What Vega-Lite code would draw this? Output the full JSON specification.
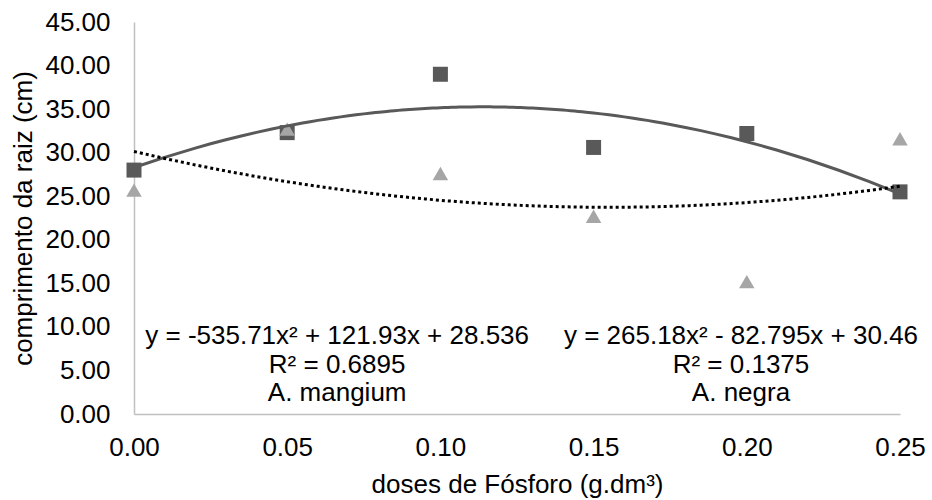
{
  "$schema": "https://vega.github.io/schema/vega-lite/v6.json",
  "width": 766,
  "height": 392,
  "autosize": "none",
  "padding": {"left": 134, "top": 22, "right": 32, "bottom": 86},
  "background": "white",
  "config": {
    "view": {"stroke": null},
    "font": "Liberation Sans",
    "axis": {
      "grid": false,
      "ticks": false,
      "tickSize": 0,
      "domainColor": "#c0c0c0",
      "domainWidth": 1.5,
      "labelFontSize": 26,
      "labelColor": "#000000",
      "labelFont": "Liberation Sans",
      "titleFontSize": 26,
      "titleFontWeight": "normal",
      "titleColor": "#000000",
      "titleFont": "Liberation Sans"
    }
  },
  "datasets": {
    "pontos": [
      {"dose": 0.00, "comprimento": 28.0, "especie": "A. mangium"},
      {"dose": 0.05, "comprimento": 32.3, "especie": "A. mangium"},
      {"dose": 0.10, "comprimento": 39.0, "especie": "A. mangium"},
      {"dose": 0.15, "comprimento": 30.6, "especie": "A. mangium"},
      {"dose": 0.20, "comprimento": 32.2, "especie": "A. mangium"},
      {"dose": 0.25, "comprimento": 25.5, "especie": "A. mangium"},
      {"dose": 0.00, "comprimento": 25.7, "especie": "A. negra"},
      {"dose": 0.05, "comprimento": 32.7, "especie": "A. negra"},
      {"dose": 0.10, "comprimento": 27.6, "especie": "A. negra"},
      {"dose": 0.15, "comprimento": 22.7, "especie": "A. negra"},
      {"dose": 0.20, "comprimento": 15.2, "especie": "A. negra"},
      {"dose": 0.25, "comprimento": 31.6, "especie": "A. negra"}
    ],
    "rotulos": [
      {"dose": 0.0663, "comprimento": 8.95, "rotulo": "y = -535.71x² + 121.93x + 28.536"},
      {"dose": 0.0663, "comprimento": 5.63, "rotulo": "R² = 0.6895"},
      {"dose": 0.0663, "comprimento": 2.41, "rotulo": "A. mangium"},
      {"dose": 0.1981, "comprimento": 8.95, "rotulo": "y = 265.18x² - 82.795x + 30.46"},
      {"dose": 0.1981, "comprimento": 5.63, "rotulo": "R² = 0.1375"},
      {"dose": 0.1981, "comprimento": 2.41, "rotulo": "A. negra"}
    ]
  },
  "encoding": {
    "x": {
      "field": "dose", "type": "quantitative",
      "scale": {"domain": [0, 0.25], "nice": false, "zero": false},
      "axis": {"values": [0, 0.05, 0.1, 0.15, 0.2, 0.25], "format": ".2f", "labelPadding": 20, "titlePadding": 11, "title": "doses de Fósforo (g.dm³)", "labelFlush": false}
    },
    "y": {
      "field": "comprimento", "type": "quantitative",
      "scale": {"domain": [0, 45], "nice": false},
      "axis": {"values": [0, 5, 10, 15, 20, 25, 30, 35, 40, 45], "format": ".2f", "labelPadding": 24, "titlePadding": 8, "title": "comprimento da raiz (cm)"}
    }
  },
  "layer": [
    {
      "data": {"name": "pontos"},
      "transform": [{"filter": "datum.especie === 'A. mangium'"}],
      "mark": {"type": "point", "shape": "square", "filled": true, "size": 225, "color": "#595959", "opacity": 1}
    },
    {
      "data": {"name": "pontos"},
      "transform": [{"filter": "datum.especie === 'A. negra'"}],
      "mark": {"type": "point", "shape": "triangle-up", "filled": true, "size": 240, "color": "#a6a6a6", "opacity": 1}
    },
    {
      "data": {"name": "pontos"},
      "transform": [
        {"filter": "datum.especie === 'A. mangium'"},
        {"regression": "comprimento", "on": "dose", "method": "poly", "order": 2}
      ],
      "mark": {"type": "line", "color": "#595959", "strokeWidth": 3}
    },
    {
      "data": {"name": "pontos"},
      "transform": [
        {"filter": "datum.especie === 'A. negra'"},
        {"regression": "comprimento", "on": "dose", "method": "poly", "order": 2}
      ],
      "mark": {"type": "line", "color": "#000000", "strokeWidth": 3, "strokeDash": [3, 3], "strokeCap": "butt"}
    },
    {
      "data": {"name": "rotulos"},
      "mark": {"type": "text", "fontSize": 26, "font": "Liberation Sans", "color": "#000000", "align": "center", "baseline": "middle"},
      "encoding": {"text": {"field": "rotulo", "type": "nominal"}}
    }
  ]
}
